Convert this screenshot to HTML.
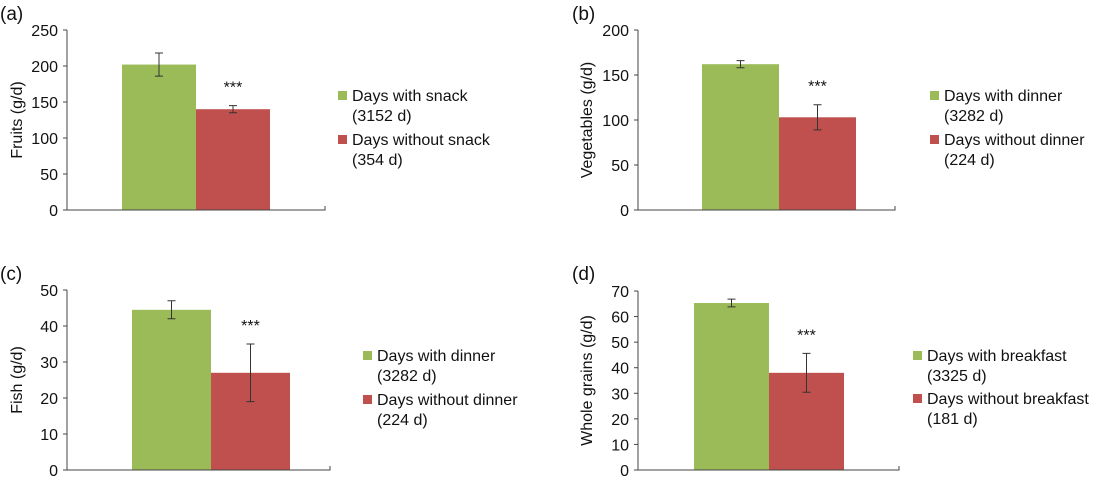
<!DOCTYPE html>
<html><head><meta charset="utf-8"><style>
body{margin:0;background:#fff;width:1113px;height:480px;overflow:hidden}
svg text{font-family:"Liberation Sans",sans-serif;fill:#111}
</style></head><body>
<svg id="s" width="1113" height="480"></svg>
<script>
const panelLabels=["(a)","(b)","(c)","(d)"];
const yTitles=["Fruits (g/d)","Vegetables (g/d)","Fish (g/d)","Whole grains (g/d)"];
const yMaxes=[250,200,50,70];
const yStepsArr=[50,50,10,10];
const withValues=[202,162,44.5,65.3];
const withErrors=[16,4,2.5,1.5];
const withoutValues=[140,103,27,38];
const withoutErrors=[5,14,8,7.6];
const legendWith=["Days with snack","Days with dinner","Days with dinner","Days with breakfast"];
const legendWithN=["(3152 d)","(3282 d)","(3282 d)","(3325 d)"];
const legendWithout=["Days without snack","Days without dinner","Days without dinner","Days without breakfast"];
const legendWithoutN=["(354 d)","(224 d)","(224 d)","(181 d)"];
const layout=[
 {lx:0,ly:20,ax:67,top:30,bot:210,right:325,b0:122,bw:74,leg:338,leg1:102,leg2:146,title:22},
 {lx:572,ly:20,ax:638,top:30,bot:210,right:895,b0:702,bw:77,leg:930,leg1:102,leg2:146,title:592},
 {lx:0,ly:280,ax:67,top:290,bot:470,right:330,b0:132,bw:79,leg:363,leg1:362,leg2:406,title:22},
 {lx:572,ly:280,ax:638,top:291,bot:470,right:899,b0:694,bw:75,leg:913,leg1:362,leg2:405,title:592}];
const NS="http://www.w3.org/2000/svg",s=document.getElementById('s');
function mk(t,a,txt){const e=document.createElementNS(NS,t);for(const k in a)e.setAttribute(k,a[k]);if(txt!==undefined)e.textContent=txt;s.appendChild(e);return e;}
layout.forEach((L,i)=>{
 const y=v=>L.bot-(v/yMaxes[i])*(L.bot-L.top);
 let e=mk('text',{x:L.lx,y:L.ly,'font-size':19},panelLabels[i]);
 
 e=mk('text',{x:L.title,y:(L.top+L.bot)/2,'font-size':16,'text-anchor':'middle',transform:`rotate(-90 ${L.title} ${(L.top+L.bot)/2})`},yTitles[i]);
 
 for(let v=0;v<=yMaxes[i];v+=yStepsArr[i]){
  e=mk('text',{x:L.ax-9,y:y(v)+6,'font-size':16,'text-anchor':'end'},v);
  
  mk('line',{x1:L.ax-4,x2:L.ax,y1:y(v),y2:y(v),stroke:'#444'});
 }
 e=mk('rect',{x:L.b0,y:y(withValues[i]),width:L.bw,height:L.bot-y(withValues[i]),fill:'#9bbb59'});
 
 e=mk('rect',{x:L.b0+L.bw,y:y(withoutValues[i]),width:L.bw,height:L.bot-y(withoutValues[i]),fill:'#c0504d'});
 
 [[withValues[i],withErrors[i],L.b0+L.bw/2],[withoutValues[i],withoutErrors[i],L.b0+1.5*L.bw]].forEach(([v,er,cx])=>{
  const g=mk('path',{d:`M${cx} ${y(v+er)}V${y(v-er)}M${cx-4} ${y(v+er)}H${cx+4}M${cx-4} ${y(v-er)}H${cx+4}`,stroke:'#333','stroke-width':1,fill:'none'});
  
 });
 e=mk('text',{x:L.b0+1.5*L.bw,y:y(withoutValues[i]+withoutErrors[i])-13,'font-size':16,'text-anchor':'middle'},'***');
 
 mk('path',{d:`M${L.ax} ${L.top}V${L.bot}H${L.right}V${L.bot-4}`,stroke:'#444',fill:'none'});
 [[L.leg1,'#9bbb59',legendWith[i],legendWithN[i],'legend-entry-with'],[L.leg2,'#c0504d',legendWithout[i],legendWithoutN[i],'legend-entry-without']].forEach(([ly,c,t1,t2,n])=>{
  const r=mk('rect',{x:L.leg,y:ly-11,width:9,height:9,fill:c});
  
  let t=mk('text',{x:L.leg+14,y:ly-1,'font-size':16},t1);
  
  t=mk('text',{x:L.leg+14,y:ly+19,'font-size':16},t2);
  
 });
});
</script>
</body></html>
